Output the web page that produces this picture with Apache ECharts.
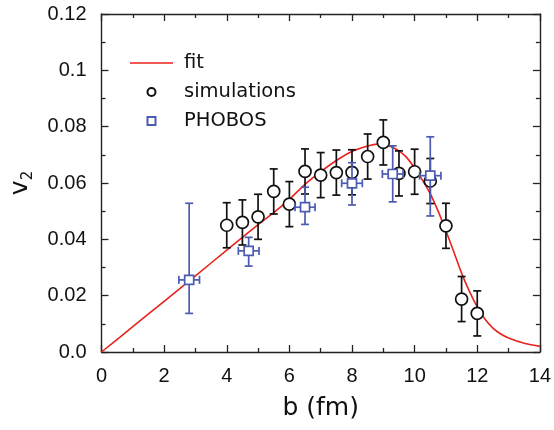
<!DOCTYPE html>
<html>
<head>
<meta charset="utf-8">
<script src="https://cdn.jsdelivr.net/npm/echarts@6/dist/echarts.min.js"></script>
<style>html,body{margin:0;padding:0;background:#fff;}#c{width:554px;height:430px;}</style>
</head>
<body>
<div id="c"></div>
<script>
// ---- data ----
var xTicks = [0, 2, 4, 6, 8, 10, 12, 14];
var yTickLabels = ['0.0', '0.02', '0.04', '0.06', '0.08', '0.1', '0.12'];

var fitB = [0, 1, 2, 3, 4, 5, 5.5, 6, 6.5, 7, 7.5, 8, 8.5, 8.8, 9, 9.25, 9.5, 9.75, 10, 10.25, 10.5, 10.75, 11, 11.25, 11.5, 11.75, 12, 12.25, 12.5, 12.75, 13, 13.5, 14];
var fitV = [0, 0.009, 0.018, 0.027, 0.0362, 0.0452, 0.0495, 0.0542, 0.0595, 0.064, 0.068, 0.0712, 0.0731, 0.0738, 0.0737, 0.0729, 0.0714, 0.0690, 0.0653, 0.0610, 0.0561, 0.0500, 0.0430, 0.0356, 0.0280, 0.0215, 0.0160, 0.0116, 0.0085, 0.0064, 0.0050, 0.0031, 0.0020];

var simB = [4, 4.5, 5, 5.5, 6, 6.5, 7, 7.5, 8, 8.5, 9, 9.5, 10, 10.5, 11, 11.5, 12];
var simV = [0.045, 0.046, 0.048, 0.057, 0.0525, 0.0641, 0.0628, 0.0637, 0.0638, 0.0694, 0.0744, 0.0634, 0.064, 0.0607, 0.0448, 0.0188, 0.0137];
var simErr = [0.008, 0.008, 0.008, 0.008, 0.008, 0.008, 0.008, 0.008, 0.008, 0.008, 0.008, 0.008, 0.008, 0.008, 0.008, 0.008, 0.008];

var phB = [2.8, 4.7, 6.5, 8.0, 9.3, 10.5];
var phV = [0.0256, 0.0359, 0.0514, 0.0599, 0.0632, 0.0626];
var phErrUp = [0.0272, 0.0048, 0.0071, 0.0073, 0.0100, 0.0138];
var phErrDn = [0.0119, 0.0054, 0.0061, 0.0077, 0.0099, 0.0143];
var phErrB = [0.33, 0.33, 0.32, 0.33, 0.33, 0.34];

// ---- build ----
var RED = '#e8221e', BLUE = '#4a5bb0', BLACK = '#111';
var fitData = fitB.map(function (b, i) { return [b, fitV[i]]; });
var simData = simB.map(function (b, i) { return [b, simV[i]]; });
var simErrData = simB.map(function (b, i) { return [b, simV[i], simV[i] - simErr[i], simV[i] + simErr[i]]; });
var phData = phB.map(function (b, i) { return [b, phV[i]]; });
var phErrData = phB.map(function (b, i) { return [b, phV[i], phV[i] - phErrDn[i], phV[i] + phErrUp[i], b - phErrB[i], b + phErrB[i]]; });

function errRender(color, horiz) {
  return function (params, api) {
    var x = api.value(0), y = api.value(1);
    var lo = api.coord([x, api.value(2)]), hi = api.coord([x, api.value(3)]);
    var cap = 4;
    var st = { stroke: color, lineWidth: 1.7 };
    var ch = [
      { type: 'line', shape: { x1: lo[0], y1: lo[1], x2: hi[0], y2: hi[1] }, style: st },
      { type: 'line', shape: { x1: lo[0] - cap, y1: lo[1], x2: lo[0] + cap, y2: lo[1] }, style: st },
      { type: 'line', shape: { x1: hi[0] - cap, y1: hi[1], x2: hi[0] + cap, y2: hi[1] }, style: st }
    ];
    if (horiz) {
      var l = api.coord([api.value(4), y]), r = api.coord([api.value(5), y]);
      ch.push({ type: 'line', shape: { x1: l[0], y1: l[1], x2: r[0], y2: r[1] }, style: st });
      ch.push({ type: 'line', shape: { x1: l[0], y1: l[1] - cap, x2: l[0], y2: l[1] + cap }, style: st });
      ch.push({ type: 'line', shape: { x1: r[0], y1: r[1] - cap, x2: r[0], y2: r[1] + cap }, style: st });
    }
    return { type: 'group', children: ch };
  };
}

var axisLineStyle = { color: '#222', width: 1.4 };
var tickCommon = { show: true, inside: true, length: 7, lineStyle: { color: '#222', width: 1.3 } };
var minorCommon = { show: true, length: 4, lineStyle: { color: '#222', width: 1.3 } };
var labelFont = 'Liberation Sans';

var chart = echarts.init(document.getElementById('c'), null, { renderer: 'canvas' });
chart.setOption({
  animation: false,
  backgroundColor: '#fff',
  grid: { left: 98, right: 13, top: 14, bottom: 78, show: false },
  legend: {
    orient: 'vertical', left: 125, top: 48,
    itemWidth: 43, itemHeight: 8, itemGap: 9,
    textStyle: { fontFamily: 'DejaVu Sans', fontSize: 19.5, color: '#111', lineHeight: 20, padding: [0, 0, 0, 6] },
    data: [
      { name: 'fit', icon: 'path://M0,0H43V1.6H0Z', itemStyle: { color: RED, borderWidth: 0 } },
      { name: 'simulations', icon: 'circle' },
      { name: 'PHOBOS', icon: 'path://M0,0H10V10H0Z' }
    ]
  },
  xAxis: [{
    type: 'value', min: 0, max: 14, interval: 2,
    axisLine: { show: true, onZero: false, lineStyle: axisLineStyle },
    axisTick: tickCommon,
    minorTick: Object.assign({ splitNumber: 2 }, minorCommon),
    splitLine: { show: false },
    axisLabel: { margin: 14, fontFamily: labelFont, fontSize: 20, color: '#111',
      formatter: function (v) { return String(xTicks[Math.round(v / 2)]); } },
    name: 'b (fm)', nameLocation: 'middle', nameGap: 44,
    nameTextStyle: { fontFamily: 'DejaVu Sans', fontSize: 25, color: '#111' }
  }, {
    type: 'value', min: 0, max: 14, interval: 2, position: 'top',
    axisLine: { show: true, onZero: false, lineStyle: axisLineStyle },
    axisTick: tickCommon,
    minorTick: Object.assign({ splitNumber: 2 }, minorCommon),
    splitLine: { show: false }, axisLabel: { show: false }
  }],
  yAxis: [{
    type: 'value', min: 0, max: 0.12, interval: 0.02,
    axisLine: { show: true, onZero: false, lineStyle: axisLineStyle },
    axisTick: tickCommon,
    minorTick: Object.assign({ splitNumber: 2 }, minorCommon),
    splitLine: { show: false },
    axisLabel: { margin: 15, fontFamily: labelFont, fontSize: 20, color: '#111',
      formatter: function (v) { return yTickLabels[Math.round(v / 0.02)]; } },
    name: '{v|v}{s|2}', nameLocation: 'middle', nameGap: 66, nameRotate: 90,
    nameTextStyle: { rich: {
      v: { fontFamily: 'DejaVu Sans', fontSize: 25, color: '#111', lineHeight: 30 },
      s: { fontFamily: 'DejaVu Sans', fontSize: 15, color: '#111', lineHeight: 14, verticalAlign: 'bottom' }
    } }
  }, {
    type: 'value', min: 0, max: 0.12, interval: 0.02, position: 'right',
    axisLine: { show: true, onZero: false, lineStyle: axisLineStyle },
    axisTick: tickCommon,
    minorTick: Object.assign({ splitNumber: 2 }, minorCommon),
    splitLine: { show: false }, axisLabel: { show: false }
  }],
  series: [
    { name: 'fit', type: 'line', data: fitData, smooth: 0.2, symbol: 'none', showSymbol: false,
      lineStyle: { color: RED, width: 1.6 }, itemStyle: { color: RED }, z: 2 },
    { name: 'simErr', type: 'custom', data: simErrData, renderItem: errRender(BLACK, false), z: 3, silent: true },
    { name: 'simulations', type: 'scatter', data: simData, symbol: 'circle', symbolSize: 12,
      itemStyle: { color: '#fff', borderColor: BLACK, borderWidth: 1.7, opacity: 1 }, z: 4 },
    { name: 'phErr', type: 'custom', data: phErrData, renderItem: errRender(BLUE, true), z: 5, silent: true },
    { name: 'PHOBOS', type: 'scatter', data: phData, symbol: 'rect', symbolSize: 9,
      itemStyle: { color: '#fff', borderColor: BLUE, borderWidth: 1.7, opacity: 1 }, z: 6 }
  ]
});
</script>
</body>
</html>
